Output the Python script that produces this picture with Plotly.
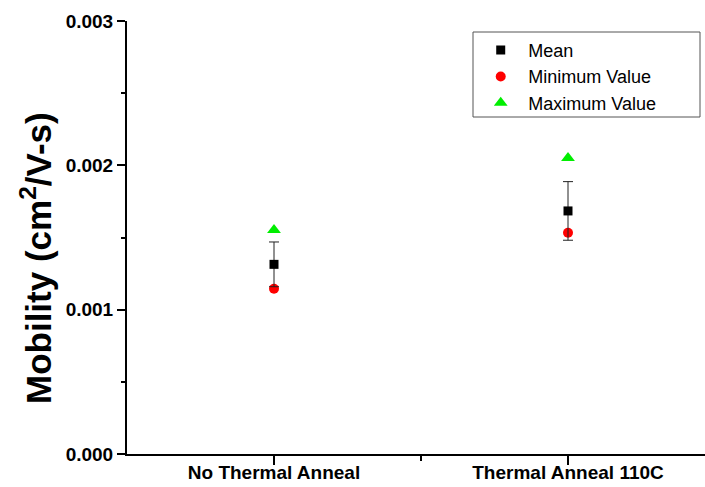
import plotly.graph_objects as go
import numpy as np

categories = ["No Thermal Anneal", "Thermal Anneal 110C"]
mean_vals = [0.001314, 0.001684]
mean_err = [0.000155, 0.000203]
min_vals = [0.001145, 0.001533]
max_vals = [0.001552, 0.002051]
y_tick_vals = [0.0, 0.001, 0.002, 0.003]
y_tick_text = ["0.000", "0.001", "0.002", "0.003"]

xpos = list(np.arange(len(categories)) + 1)
font_family = "Liberation Sans, Arial, sans-serif"

fig = go.Figure()
fig.add_trace(go.Scatter(
    x=xpos, y=min_vals, mode="markers", name="Minimum Value",
    marker=dict(symbol="circle", size=10, color="#ff0000"), legendrank=2))
fig.add_trace(go.Scatter(
    x=xpos, y=max_vals, mode="markers", name="Maximum Value",
    marker=dict(symbol="triangle-up", size=12, color="#00ee00"), legendrank=3))
fig.add_trace(go.Scatter(
    x=xpos, y=mean_vals, mode="markers", name="Mean",
    marker=dict(symbol="square", size=9, color="#000000"),
    error_y=dict(type="data", array=mean_err, visible=True, color="#222222",
                 thickness=1, width=5),
    legendrank=1))

# legend frame (drawn as a shape so its width matches the reference)
fig.add_shape(type="rect", xref="paper", yref="paper",
              x0=(473 - 127) / 578, x1=(700 - 127) / 578,
              y0=(454 - 117) / 433, y1=(454 - 32) / 433,
              line=dict(color="#555555", width=1), fillcolor="white",
              layer="below")

fig.update_layout(
    width=705, height=487,
    margin=dict(l=127, r=0, t=21, b=33),
    plot_bgcolor="white", paper_bgcolor="white",
    font=dict(family=font_family, color="black"),
    showlegend=True,
    legend=dict(x=0.599, y=0.975, xanchor="left", yanchor="top",
                borderwidth=0, bgcolor="rgba(0,0,0,0)",
                font=dict(size=18, family=font_family, color="black"),
                itemwidth=45, traceorder="normal", tracegroupgap=0),
    xaxis=dict(range=[0.5, 2.466], tickvals=xpos, ticktext=categories,
               ticks="outside", ticklen=9, tickwidth=1.5, tickcolor="black",
               showline=True, linewidth=2, linecolor="black",
               showgrid=False, zeroline=False, ticklabelstandoff=-9,
               tickfont=dict(size=19, weight="bold", family=font_family),
               minor=dict(tickvals=[1.5], ticks="outside", ticklen=5,
                          tickwidth=1.5, tickcolor="black", showgrid=False)),
    xaxis2=dict(range=[0.5, 2.466], overlaying="x", side="top",
                tickvals=xpos, ticks="inside", ticklen=9, tickwidth=1.5,
                tickcolor="black", showticklabels=False,
                showline=True, linewidth=2, linecolor="black",
                showgrid=False, zeroline=False,
                minor=dict(tickvals=[1.5], ticks="inside", ticklen=5,
                           tickwidth=1.5, tickcolor="black", showgrid=False)),
    yaxis=dict(range=[0, 0.003], tickvals=y_tick_vals, ticktext=y_tick_text,
               ticks="outside", ticklen=8, tickwidth=1.5, tickcolor="black",
               showline=True, linewidth=2, linecolor="black",
               showgrid=False, zeroline=False,
               tickfont=dict(size=19, weight="bold", family=font_family),
               minor=dict(dtick=0.0005, ticks="outside", ticklen=4,
                          tickwidth=1.5, tickcolor="black", showgrid=False)),
    annotations=[dict(
        text="Mobility (cm<sup>2</sup>/V-s)", textangle=-90,
        xref="paper", yref="paper", x=(36 - 127) / 578, y=(454 - 258) / 433,
        xanchor="center", yanchor="middle", showarrow=False,
        font=dict(size=35, weight="bold", family=font_family, color="black"))],
)

fig.write_html("out.html")
